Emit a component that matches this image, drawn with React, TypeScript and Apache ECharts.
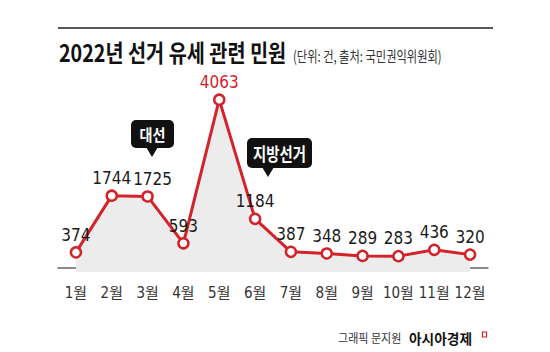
import React, { useEffect, useRef } from "react";
import * as echarts from "echarts";

const months = ["1월", "2월", "3월", "4월", "5월", "6월", "7월", "8월", "9월", "10월", "11월", "12월"];
const complaints = [374, 1744, 1725, 593, 4063, 1184, 387, 348, 289, 283, 436, 320];
const highlightIndex = 4;
const nudgedIndex = 2;
const titleText = "2022년 선거 유세 관련 민원";
const subtitleText = "(단위: 건, 출처: 국민권익위원회)";
const creditText = "그래픽 문지원";
const brandText = "아시아경제";
const calloutA = "대선";
const calloutB = "지방선거";

const RED = "#d3222a";
const CJK = "'Noto Sans CJK KR', 'Noto Sans', sans-serif";
const NUM = "'DejaVu Sans Condensed', 'Noto Sans CJK KR', sans-serif";

export default function App() {
  const ref = useRef<HTMLDivElement>(null);
  useEffect(() => {
    if (!ref.current) return;
    const chart = echarts.init(ref.current, undefined, { renderer: "svg" });
    const data = complaints.map((v, i) => {
      if (i === highlightIndex) return { value: v, label: { color: RED } };
      if (i === nudgedIndex) return { value: v, label: { offset: [5, 0] } };
      return v;
    });
    chart.setOption({
      animation: false,
      backgroundColor: "#ffffff",
      grid: { left: 58, right: 62, top: 94, bottom: 80 },
      xAxis: {
        type: "category",
        data: months,
        boundaryGap: true,
        axisLine: { lineStyle: { color: "#666", width: 1.5 } },
        axisTick: { alignWithLabel: true, inside: true, length: 12, lineStyle: { color: "#888" } },
        axisLabel: { color: "#333", fontSize: 15, margin: 13, interval: 0, fontFamily: NUM },
      },
      yAxis: {
        type: "value",
        min: -100,
        max: 4200,
        show: false,
        splitLine: { show: false },
      },
      series: [
        {
          type: "line",
          data,
          symbol: "circle",
          symbolSize: 10,
          itemStyle: { color: "#ffffff", borderColor: RED, borderWidth: 2.5 },
          lineStyle: { color: RED, width: 3 },
          areaStyle: { color: "#ececec", opacity: 1, origin: "start" },
          label: {
            show: true,
            position: "top",
            distance: 3,
            color: "#1a1a1a",
            fontSize: 17,
            fontFamily: NUM,
          },
        },
      ],
      graphic: [
        { type: "line", shape: { x1: 58, y1: 28, x2: 493, y2: 28 }, style: { stroke: "#222", lineWidth: 1.5 } },
        {
          type: "text", x: 59, y: 64, scaleX: 0.82,
          style: { text: titleText, fontSize: 24, fontWeight: "bold", fontFamily: CJK, fill: "#111", align: "left", verticalAlign: "bottom" },
        },
        {
          type: "text", x: 293, y: 63, scaleX: 0.75,
          style: { text: subtitleText, fontSize: 15, fontFamily: CJK, fill: "#333", align: "left", verticalAlign: "bottom" },
        },
        // callout 대선
        { type: "rect", shape: { x: 131, y: 120, width: 43, height: 28, r: 5 }, style: { fill: "#111" } },
        { type: "polygon", shape: { points: [[146, 147], [158, 147], [152, 157]] }, style: { fill: "#111" } },
        {
          type: "text", x: 152.5, y: 134, scaleX: 0.88,
          style: { text: calloutA, fontSize: 16, fontWeight: "bold", fontFamily: CJK, fill: "#fff", align: "center", verticalAlign: "middle" },
        },
        // callout 지방선거
        { type: "rect", shape: { x: 247, y: 138, width: 65, height: 30, r: 5 }, style: { fill: "#111" } },
        { type: "polygon", shape: { points: [[262, 167], [274, 167], [268, 177]] }, style: { fill: "#111" } },
        {
          type: "text", x: 279.5, y: 153, scaleX: 0.8,
          style: { text: calloutB, fontSize: 18, fontWeight: "bold", fontFamily: CJK, fill: "#fff", align: "center", verticalAlign: "middle" },
        },
        // footer
        {
          type: "text", x: 338, y: 338, scaleX: 0.92,
          style: { text: creditText, fontSize: 12, fontFamily: CJK, fill: "#333", align: "left", verticalAlign: "middle" },
        },
        {
          type: "text", x: 409, y: 338, scaleX: 0.98,
          style: { text: brandText, fontSize: 14, fontWeight: "bold", fontFamily: CJK, fill: "#111", align: "left", verticalAlign: "middle" },
        },
        { type: "rect", shape: { x: 482.5, y: 332, width: 4, height: 5 }, style: { fill: "none", stroke: RED, lineWidth: 1.2 } },
      ],
    });
    return () => chart.dispose();
  }, []);
  return <div ref={ref} style={{ position: "fixed", left: 0, top: 0, width: 550, height: 352 }} />;
}
